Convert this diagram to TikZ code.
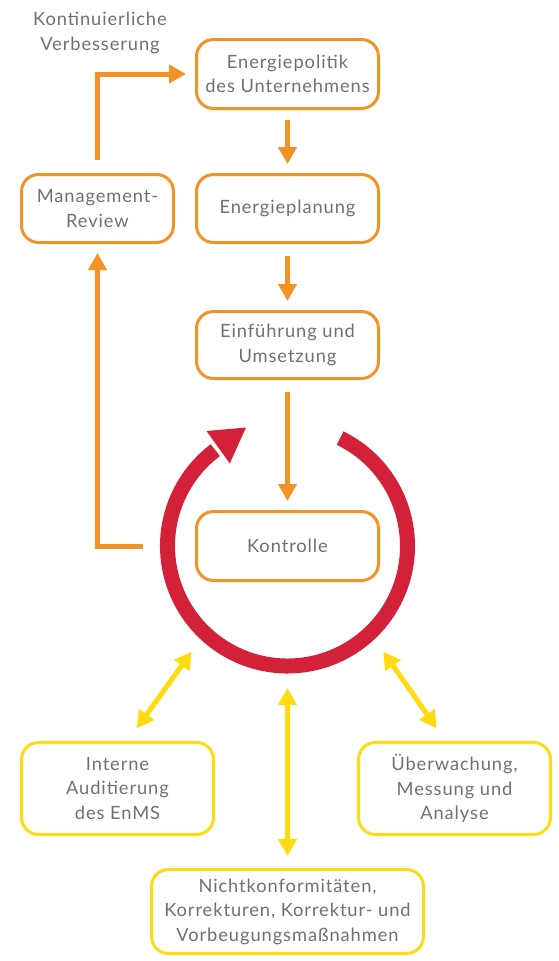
\documentclass[tikz,border=0pt]{standalone}
\usepackage{fontspec}
\setmainfont{Lato}[LetterSpace=5]
\usetikzlibrary{arrows.meta}
\definecolor{org}{HTML}{F39325}
\definecolor{ylw}{HTML}{FFDB0F}
\definecolor{rd}{HTML}{D4213A}
\definecolor{txt}{HTML}{707070}
\begin{document}
\begin{tikzpicture}[x=1pt,y=1pt,
 box/.style={draw=#1, line width=3pt, rounded corners=17pt, align=center, text=txt,
   font=\fontsize{18.3}{24.5}\selectfont, inner sep=0pt},
 oarr/.style={draw=org, line width=5pt, -{Triangle[length=17pt,width=18pt]}},
 yarr/.style={draw=ylw, line width=5pt, {Triangle[length=17pt,width=18pt]}-{Triangle[length=17pt,width=18pt]}},
 lbl/.style={text=txt, align=center, font=\fontsize{18.3}{24.5}\selectfont, inner sep=0pt}
]
\useasboundingbox (0,0) rectangle (558,-961);

% orange boxes
\node[box=org, minimum width=182pt, minimum height=69pt] (pol) at (287.5,-74) {Energiepolitik\\des Unternehmens};
\node[box=org, minimum width=182pt, minimum height=68pt] (plan) at (287.5,-208.5) {Energieplanung};
\node[box=org, minimum width=182pt, minimum height=67pt] (ein) at (287.5,-345) {Einführung und\\Umsetzung};
\node[box=org, minimum width=182pt, minimum height=69pt] (kon) at (287.5,-546) {Kontrolle};
\node[box=org, minimum width=152pt, minimum height=68pt] (mgmt) at (97.5,-208.5) {Management-\\Review};

% yellow boxes
\node[box=ylw, minimum width=192pt, minimum height=92pt] (aud) at (117.5,-788.5) {Interne\\Auditierung\\des EnMS};
\node[box=ylw, minimum width=192pt, minimum height=92pt] (ueb) at (454.5,-788.5) {Überwachung,\\Messung und\\Analyse};
\node[box=ylw, minimum width=272pt, minimum height=84pt] (nk) at (287.5,-911.5) {Nichtkonformitäten,\\Korrekturen, Korrektur- und\\Vorbeugungsmaßnahmen};

% label
\node[lbl] (kv) at (100,-33) {Kontinuierliche\\Verbesserung};

% red cycle
\draw[rd, line width=15pt] ([shift={(287.5,-546)}]64:120) arc[start angle=64, end angle=-233, radius=120];
\fill[rd] (206.5,-431) -- (246,-427.5) -- (229.8,-463.5) -- cycle;

% orange connectors
\draw[oarr, shorten <=10pt, shorten >=9pt] (pol.south) -- (plan.north);
\draw[oarr, shorten <=12pt, shorten >=9pt] (plan.south) -- (ein.north);
\draw[oarr, shorten <=12pt, shorten >=9pt] (ein.south) -- (kon.north);
\draw[oarr] ([yshift=13pt]mgmt.north) |- ([xshift=-9pt]pol.west);
\draw[oarr] ([xshift=-52pt]kon.west) -| ([yshift=-9pt]mgmt.south);

% yellow connectors
\coordinate (cm) at (287.5,-688);
\coordinate (cl) at (191.7,-651.7);
\coordinate (cr) at (383.3,-651.7);
\coordinate (al) at (136.7,-728.3);
\coordinate (ar) at (436.7,-728.3);
\draw[yarr, shorten >=12pt] (cm) -- (nk.north);
\draw[yarr] (cl) -- (al);
\draw[yarr] (cr) -- (ar);
\end{tikzpicture}
\end{document}
